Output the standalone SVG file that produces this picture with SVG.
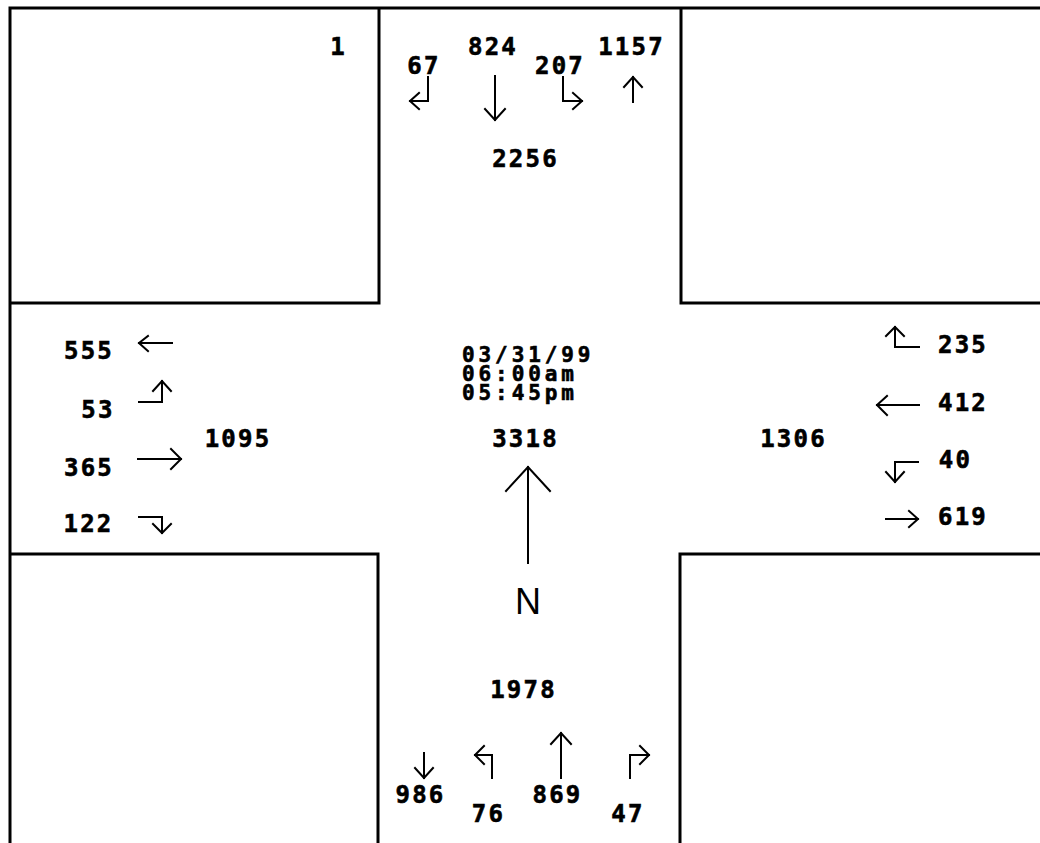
<svg xmlns="http://www.w3.org/2000/svg" width="1040" height="843" viewBox="0 0 1040 843">
<style>
.b{fill:none;stroke:#000;stroke-width:3}
.a{fill:none;stroke:#000;stroke-width:2;stroke-linecap:square;stroke-linejoin:miter}
.n{font-family:"DejaVu Sans Mono","Liberation Mono",monospace;font-weight:bold;font-size:24px;letter-spacing:2.2px;fill:#000;stroke:#000;stroke-width:0.6;text-anchor:middle}
.d{text-anchor:start;font-size:21px;letter-spacing:3.9px}
.N{font-family:"Liberation Sans",Arial,sans-serif;font-size:36px;fill:#000;text-anchor:middle}
</style>
<rect width="1040" height="843" fill="#fff"/>
<g id="blocks">
<path class="b" d="M10,843 V8 H1040"/>
<path class="b" d="M379,8 V303 H10"/>
<path class="b" d="M681,8 V303 H1040"/>
<path class="b" d="M10,554 H378 V843"/>
<path class="b" d="M1040,554 H680 V843"/>
</g>
<g id="north">
<text class="n" x="338.5" y="55">1</text>
<text class="n" x="424" y="74">67</text>
<text class="n" x="493" y="55">824</text>
<text class="n" x="560" y="74">207</text>
<text class="n" x="631.5" y="55">1157</text>
<text class="n" x="525.5" y="167">2256</text>
</g>
<g id="west">
<text class="n" x="89" y="359">555</text>
<text class="n" x="98" y="418">53</text>
<text class="n" x="89" y="476">365</text>
<text class="n" x="238" y="447">1095</text>
<text class="n" x="88.5" y="532">122</text>
</g>
<g id="east">
<text class="n" x="963" y="353">235</text>
<text class="n" x="963" y="411">412</text>
<text class="n" x="793.5" y="447">1306</text>
<text class="n" x="955.5" y="468">40</text>
<text class="n" x="963" y="525">619</text>
</g>
<g id="south">
<text class="n" x="523.5" y="698">1978</text>
<text class="n" x="420.5" y="803">986</text>
<text class="n" x="488.5" y="822">76</text>
<text class="n" x="557.5" y="803">869</text>
<text class="n" x="628" y="822">47</text>
</g>
<g id="center">
<text class="n d" x="462" y="362"><tspan x="462" y="362">03/31/99</tspan><tspan x="462" y="381">06:00am</tspan><tspan x="462" y="400">05:45pm</tspan></text>
<text class="n" x="525.5" y="447">3318</text>
<text class="N" x="528" y="614">N</text>
</g>
<g id="connectors">
<path class="a" d="M428,77 V101 H410 M419,93 L410,101 L419,109"/>
<path class="a" d="M495,76 V120 M485,109 L495,120 L505,109"/>
<path class="a" d="M563,77 V101 H582 M573,93 L582,101 L573,109"/>
<path class="a" d="M633,102 V77 M624,87 L633,77 L642,87"/>
<path class="a" d="M172,343 H139 M148,336 L139,343 L148,351"/>
<path class="a" d="M139,402 H162 V381 M153,391 L162,381 L171,391"/>
<path class="a" d="M138,459 H181 M171,449 L181,459 L171,469"/>
<path class="a" d="M139,517 H162 V533 M153,524 L162,533 L171,524"/>
<path class="a" d="M919,347 H895 V327 M886,336 L895,327 L904,336"/>
<path class="a" d="M919,405 H877 M887,396 L877,405 L887,415"/>
<path class="a" d="M918,462 H895 V482 M886,472 L895,482 L904,472"/>
<path class="a" d="M886,519 H918 M909,511 L918,519 L909,527"/>
<path class="a" d="M424,753 V778 M415,768 L424,778 L433,768"/>
<path class="a" d="M492,778 V755 H475 M484,746 L475,755 L484,764"/>
<path class="a" d="M561,778 V733 M551,744 L561,733 L571,744"/>
<path class="a" d="M630,778 V755 H649 M640,746 L649,755 L640,764"/>
<path class="a" d="M528,563 V467 M506,491 L528,467 L550,491"/>
</g>
</svg>
